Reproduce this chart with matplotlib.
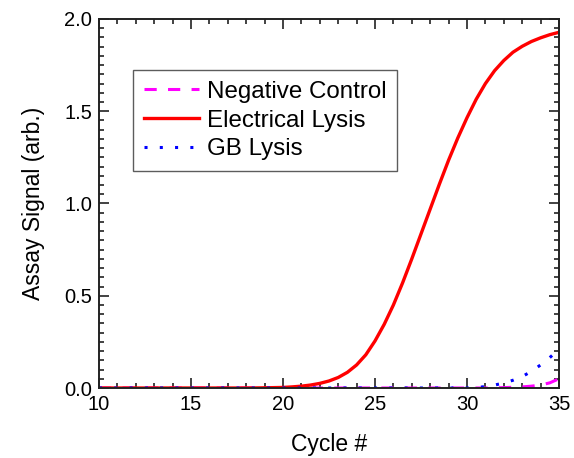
import numpy as np
import matplotlib.pyplot as plt
from matplotlib.ticker import MultipleLocator

# Cycle numbers and assay signal for each sample
cycles = [10, 12, 14, 16, 18, 19, 20, 20.5, 21, 21.5, 22, 22.5, 23, 23.5, 24, 24.5,
          25, 25.5, 26, 26.5, 27, 27.5, 28, 28.5, 29, 29.5, 30, 30.5, 31, 31.5,
          32, 32.5, 33, 33.5, 34, 34.5, 35]
electrical = [0.0, 0.0, 0.0, 0.0, 0.0, 0.001, 0.003, 0.006, 0.010, 0.016, 0.025, 0.038,
              0.057, 0.085, 0.125, 0.180, 0.255, 0.345, 0.450, 0.570, 0.700, 0.835,
              0.970, 1.105, 1.235, 1.355, 1.465, 1.565, 1.650, 1.720, 1.775, 1.820,
              1.852, 1.878, 1.898, 1.915, 1.928]

gb_cycles = [10, 15, 20, 25, 30, 30.5, 31, 31.5, 32, 32.5, 33, 33.5, 34, 34.5, 35]
gb_lysis = [0.0, 0.0, 0.0, 0.0, 0.0, 0.002, 0.008, 0.016, 0.027, 0.042, 0.062, 0.090,
            0.125, 0.165, 0.210]

neg_cycles = [10, 15, 20, 25, 30, 31, 32, 32.5, 33, 33.5, 34, 34.5, 35]
negative = [0.0, 0.0, 0.0, 0.0, 0.0, 0.0, 0.002, 0.004, 0.006, 0.010, 0.016, 0.028, 0.050]

labels = ["Negative Control", "Electrical Lysis", "GB Lysis"]

plt.rcParams['font.family'] = ['Liberation Sans', 'DejaVu Sans']

fig = plt.figure(figsize=(5.74, 4.58), dpi=100)
ax = fig.add_axes([99 / 574, 1 - 388 / 458, 460 / 574, 369 / 458])

ax.plot(neg_cycles, negative, color='#ff00ff', lw=2.2, ls=(0, (4, 3.7)), label=labels[0])
ax.plot(cycles, electrical, color='#ff0000', lw=2.4, label=labels[1])
ax.plot(gb_cycles, gb_lysis, color='#0000ff', lw=2.2, ls=(0, (1, 4)), label=labels[2])

ax.set_xlim(10, 35)
ax.set_ylim(0, 2.0)
ax.xaxis.set_major_locator(MultipleLocator(5))
ax.xaxis.set_minor_locator(MultipleLocator(1))
ax.yaxis.set_major_locator(MultipleLocator(0.5))
ax.yaxis.set_minor_locator(MultipleLocator(0.05))
ax.yaxis.set_major_formatter(plt.FormatStrFormatter('%.1f'))

ax.tick_params(which='both', direction='in', top=True, right=True, width=1.2, colors='#222222')
ax.tick_params(which='major', length=7, labelsize=14.5, pad=5, labelcolor='black')
ax.tick_params(which='minor', length=3.5)
for s in ax.spines.values():
    s.set_linewidth(1.4)
    s.set_color('#222222')

ax.set_xlabel("Cycle #", fontsize=16.5, labelpad=14)
ax.set_ylabel("Assay Signal (arb.)", fontsize=16.5, labelpad=14)

leg = ax.legend(loc='upper left', bbox_to_anchor=(34 / 460, 1 - 51 / 369),
                fontsize=17.4, frameon=True, fancybox=False, handlelength=2.3,
                handletextpad=0.3, labelspacing=0.28, borderpad=0.45, borderaxespad=0)
leg.get_frame().set_edgecolor('#333333')
leg.get_frame().set_linewidth(1.0)

fig.savefig("out.png", dpi=100)
